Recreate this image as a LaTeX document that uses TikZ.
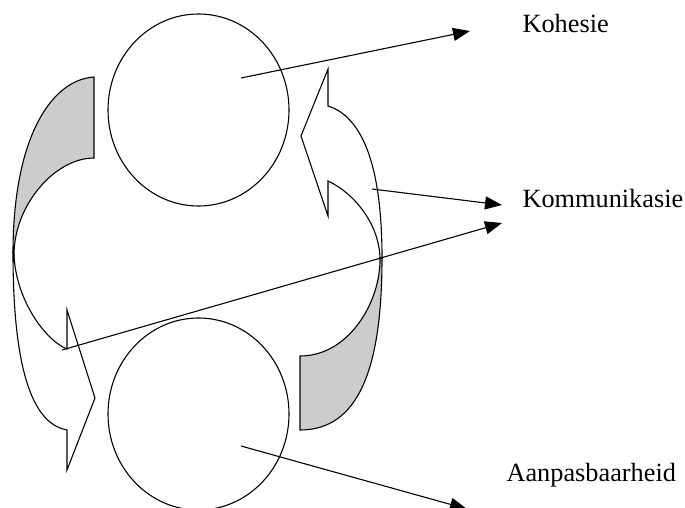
\documentclass[tikz,border=0pt]{standalone}
\usepackage{fontspec}
\setmainfont{Liberation Serif}
\usetikzlibrary{arrows.meta,shapes.geometric}
\begin{document}
\begin{tikzpicture}[x=1pt,y=-1pt,line width=1.1pt,
  shapeline/.style={draw=black,line join=miter},
  back/.style={shapeline,fill=black!20},
  front/.style={shapeline,fill=white},
  ring/.style={draw=black,ellipse,minimum width=181pt,minimum height=192pt,inner sep=0pt},
  pointer/.style={draw=black,-{Triangle[length=17pt,width=13pt]}},
  lbl/.style={anchor=base west,inner sep=0pt,font=\fontsize{26.3}{30}\selectfont}]
\useasboundingbox (0,0) rectangle (685,508);
% left curved arrow
\path[back] (94,77) .. controls (50,80) and (13,140) .. (13,253)
  -- (14,255) .. controls (14,205) and (55,158) .. (94,158) -- cycle;
\path[front] (13,253) .. controls (13,390) and (40,425) .. (67,430)
  -- (67,470) -- (95,398) -- (67,310) -- (67,349)
  .. controls (45,340) and (16,300) .. (14,255) -- cycle;
% right curved arrow
\path[back] (382,258) .. controls (382,370) and (358,430) .. (300,430)
  -- (300,356) .. controls (350,356) and (381,300) .. (380,258) -- cycle;
\path[front] (328,106) .. controls (360,116) and (382,160) .. (382,258)
  -- (380,258) .. controls (379,222) and (352,192) .. (328,181)
  -- (328,216) -- (301,136) -- (328,69) -- cycle;
% circles
\node[ring] (top) at (198.5,110) {};
\node[ring] (bottom) at (198.5,414) {};
% labels
\node[lbl] (koh) at (522,33) {Kohesie};
\node[lbl] (kom) at (522,207) {Kommunikasie};
\node[lbl] (aan) at (506,481) {Aanpasbaarheid};
% connector ends
\coordinate (s1) at (241,78);
\coordinate (e1) at (470,31);
\coordinate (s2) at (372,189);
\coordinate (e2) at (502,205);
\coordinate (s3) at (62,350);
\coordinate (e3) at (502,223);
\coordinate (s4) at (241,446);
\coordinate (e4) at (467,509);
\draw[pointer] (s1) -- (e1);
\draw[pointer] (s2) -- (e2);
\draw[pointer] (s3) -- (e3);
\draw[pointer] (s4) -- (e4);
\end{tikzpicture}
\end{document}
